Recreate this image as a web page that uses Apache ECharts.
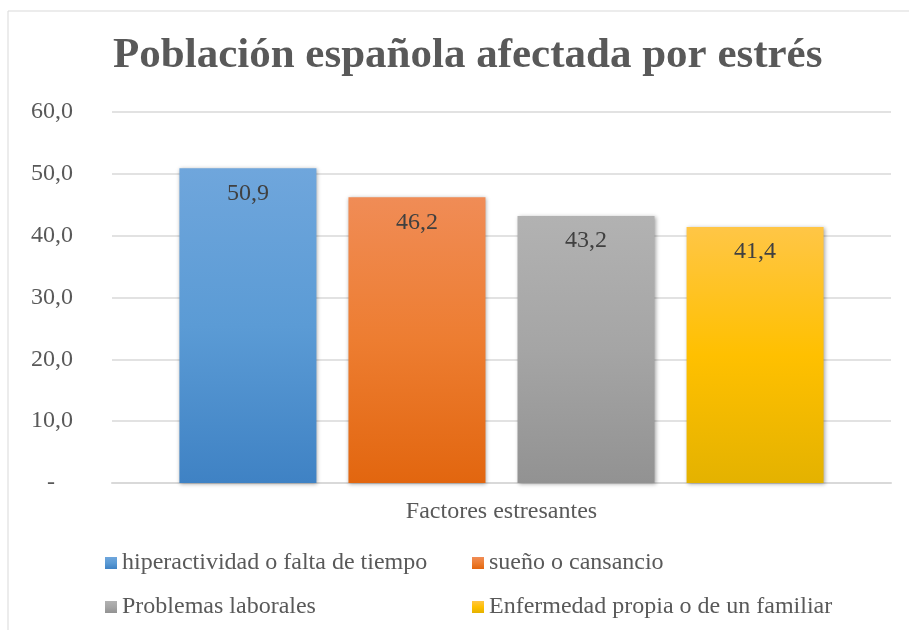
<!DOCTYPE html>
<html>
<head>
<meta charset="utf-8">
<script src="https://cdn.jsdelivr.net/npm/echarts@6/dist/echarts.min.js"></script>
<style>
  html, body { margin: 0; padding: 0; background: #fff; }
  #chart { width: 909px; height: 630px; }
</style>
</head>
<body>
<div id="chart"></div>
<script>
// datos
const categorias = ['Factores estresantes']
const seriesNombres = [
  'hiperactividad o falta de tiempo',
  'sueño o cansancio',
  'Problemas laborales',
  'Enfermedad propia o de un familiar'
]
const valores = [50.9, 46.2, 43.2, 41.4]
const yTicks = [0, 10, 20, 30, 40, 50, 60]

// colores degradados (arriba, medio, abajo)
const colores = [
  ['#6fa6dc', '#5b9bd5', '#3f82c4'],
  ['#f08c56', '#ed7d31', '#e2660f'],
  ['#b2b2b2', '#a5a5a5', '#929292'],
  ['#ffc646', '#ffc000', '#e4b200']
]

const fuente = "'Times New Roman', 'Liberation Serif', serif"
const gris = '#595959'

function grad(c) {
  return new echarts.graphic.LinearGradient(0, 0, 0, 1, [
    { offset: 0, color: c[0] },
    { offset: 0.5, color: c[1] },
    { offset: 1, color: c[2] }
  ])
}

const chart = echarts.init(document.getElementById('chart'))

const series = seriesNombres.map(function (nombre, i) {
  return {
    name: nombre,
    type: 'bar',
    data: [valores[i]],
    barWidth: 137,
    barGap: '23.4%',
    itemStyle: {
      color: grad(colores[i]),
      shadowBlur: 4,
      shadowColor: 'rgba(0,0,0,0.35)',
      shadowOffsetX: 1,
      shadowOffsetY: 1
    },
    label: {
      show: true,
      position: 'insideTop',
      distance: 13,
      color: '#404040',
      fontFamily: fuente,
      fontSize: 24,
      formatter: function (p) {
        return p.value.toFixed(1).replace('.', ',')
      }
    },
    animation: false
  }
})

function leyenda(nombres, x) {
  return {
    data: nombres,
    orient: 'vertical',
    left: x,
    top: 551,
    padding: 0,
    itemWidth: 12,
    itemHeight: 12,
    itemGap: 20,
    icon: 'rect',
    textStyle: { fontFamily: fuente, fontSize: 24, color: gris }
  }
}

chart.setOption({
  backgroundColor: '#fff',
  graphic: [{
    type: 'rect',
    shape: { x: 8, y: 11, width: 950, height: 700 },
    style: { fill: 'none', stroke: '#d9d9d9', lineWidth: 1 },
    silent: true
  }],
  title: {
    text: 'Población española afectada por estrés',
    left: 108,
    top: 29,
    textStyle: {
      fontFamily: fuente,
      fontWeight: 'bold',
      fontSize: 43,
      color: gris
    }
  },
  legend: [
    leyenda([seriesNombres[0], seriesNombres[2]], 105),
    leyenda([seriesNombres[1], seriesNombres[3]], 472)
  ],
  grid: {
    left: 112,
    right: 18,
    top: 112,
    bottom: 147
  },
  xAxis: {
    type: 'category',
    data: categorias,
    axisTick: { show: false },
    axisLine: { lineStyle: { color: '#d9d9d9', width: 2 } },
    axisLabel: {
      margin: 17,
      fontFamily: fuente,
      fontSize: 24,
      color: gris
    }
  },
  yAxis: {
    type: 'value',
    min: yTicks[0],
    max: yTicks[yTicks.length - 1],
    interval: 10,
    axisLine: { show: false },
    axisTick: { show: false },
    splitLine: { lineStyle: { color: '#d9d9d9', width: 1.5 } },
    axisLabel: {
      margin: 39,
      fontFamily: fuente,
      fontSize: 24,
      color: gris,
      formatter: function (v) {
        return v === 0 ? '-   ' : v.toFixed(1).replace('.', ',')
      }
    }
  },
  series: series
})
</script>
</body>
</html>
